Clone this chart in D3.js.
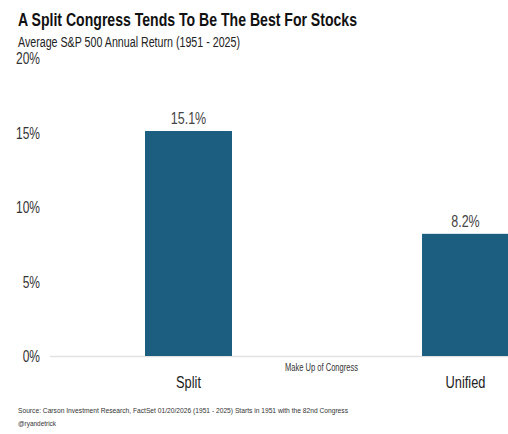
<!DOCTYPE html>
<html>
<head>
<meta charset="utf-8">
<script src="https://cdn.jsdelivr.net/npm/d3@7"></script>
<style>
  body { margin: 0; background: #fff; }
  text { font-family: "Liberation Sans Narrow", "Arial Narrow", "Liberation Sans", Arial, sans-serif; }
</style>
</head>
<body>
<script>
var categories = ["Split", "Unified"];
var returns = [15.1, 8.2];
var yTicks = [0, 5, 10, 15, 20];

var w = 508,
    h = 434;

var svg = d3.select("body")
    .append("svg")
    .attr("width", w)
    .attr("height", h);

var y = d3.scaleLinear()
    .domain([0, 20])
    .range([356, 58]);

var x = d3.scaleBand()
    .domain(categories)
    .range([50, 604])
    .paddingInner(0.686)
    .paddingOuter(0.343);

// squeeze text horizontally, no narrow font installed
function condense(sel, k) {
    sel.each(function () {
        var len = this.getComputedTextLength();
        d3.select(this)
            .attr("textLength", len * k)
            .attr("lengthAdjust", "spacingAndGlyphs");
    });
}

// title + subtitle
svg.append("text")
    .attr("x", 18)
    .attr("y", 26)
    .attr("font-size", 19)
    .attr("font-weight", "bold")
    .attr("fill", "#111")
    .attr("textLength", 339)
    .attr("lengthAdjust", "spacingAndGlyphs")
    .text("A Split Congress Tends To Be The Best For Stocks");

svg.append("text")
    .attr("x", 18)
    .attr("y", 47)
    .attr("font-size", 14)
    .attr("fill", "#222")
    .attr("textLength", 222)
    .attr("lengthAdjust", "spacingAndGlyphs")
    .text("Average S&P 500 Annual Return (1951 - 2025)");

// y axis labels, right aligned
svg.append("g")
    .selectAll("text")
    .data(yTicks)
    .enter()
    .append("text")
    .attr("x", 40)
    .attr("y", function (d) { return y(d) + 6; })
    .attr("text-anchor", "end")
    .attr("font-size", 16)
    .attr("fill", "#333")
    .text(function (d) { return d + "%"; })
    .call(condense, 0.75);

// baseline
svg.append("line")
    .attr("x1", 50)
    .attr("x2", w)
    .attr("y1", y(0) + 0.5)
    .attr("y2", y(0) + 0.5)
    .attr("stroke", "#e2e2e2")
    .attr("stroke-width", 1.5);

// bars
svg.selectAll("rect")
    .data(returns)
    .enter()
    .append("rect")
    .attr("x", function (d, i) { return x(categories[i]); })
    .attr("y", function (d) { return y(d); })
    .attr("width", x.bandwidth())
    .attr("height", function (d) { return y(0) - y(d); })
    .attr("fill", "#1b5e80");

// value labels
svg.append("g")
    .selectAll("text")
    .data(returns)
    .enter()
    .append("text")
    .attr("y", function (d) { return y(d) - 7; })
    .attr("font-size", 16)
    .attr("fill", "#444")
    .text(function (d) { return d.toFixed(1) + "%"; })
    .each(function (d, i) {
        var len = this.getComputedTextLength() * 0.78;
        d3.select(this)
            .attr("x", x(categories[i]) + x.bandwidth() / 2 - len / 2)
            .attr("textLength", len)
            .attr("lengthAdjust", "spacingAndGlyphs");
    });

// category labels
svg.append("g")
    .selectAll("text")
    .data(categories)
    .enter()
    .append("text")
    .attr("y", 388)
    .attr("font-size", 16)
    .attr("fill", "#222")
    .text(function (d) { return d; })
    .each(function (d) {
        var len = this.getComputedTextLength() * 0.8;
        d3.select(this)
            .attr("x", x(d) + x.bandwidth() / 2 - len / 2)
            .attr("textLength", len)
            .attr("lengthAdjust", "spacingAndGlyphs");
    });

svg.append("text")
    .attr("x", 285)
    .attr("y", 371)
    .attr("font-size", 10)
    .attr("fill", "#333")
    .attr("textLength", 73)
    .attr("lengthAdjust", "spacingAndGlyphs")
    .text("Make Up of Congress");

// footnote
svg.append("text")
    .attr("x", 18)
    .attr("y", 413)
    .attr("font-size", 8)
    .attr("fill", "#333")
    .attr("textLength", 330)
    .attr("lengthAdjust", "spacingAndGlyphs")
    .text("Source: Carson Investment Research, FactSet  01/20/2026  (1951 - 2025)  Starts in 1951 with the 82nd Congress");

svg.append("text")
    .attr("x", 18)
    .attr("y", 426)
    .attr("font-size", 8)
    .attr("fill", "#333")
    .attr("textLength", 38)
    .attr("lengthAdjust", "spacingAndGlyphs")
    .text("@ryandetrick");
</script>
</body>
</html>
